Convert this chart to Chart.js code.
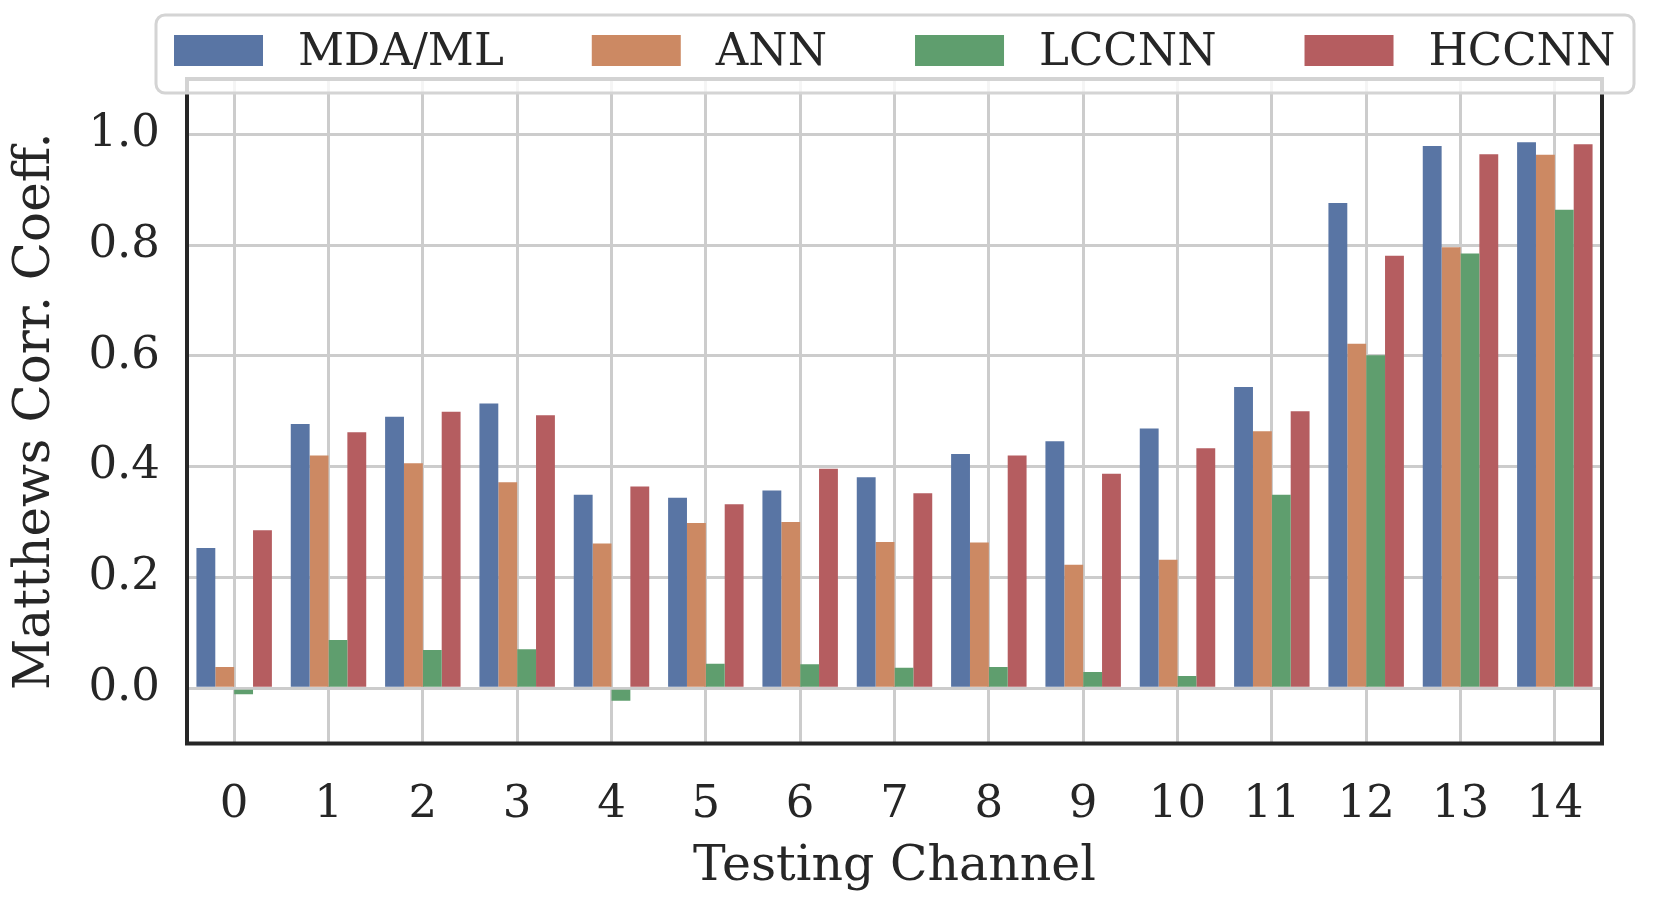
<!DOCTYPE html>
<html>
<head>
<meta charset="utf-8">
<script src="https://cdn.jsdelivr.net/npm/chart.js@4"></script>
<style>
    html, body { margin: 0; padding: 0; background: #fff; }
    canvas { display: block; }
</style>
</head>
<body>
<canvas id="chart" width="1653" height="900"></canvas>
<script>
// testing channels
var channels = ['0', '1', '2', '3', '4', '5', '6', '7', '8', '9', '10', '11', '12', '13', '14'];

// Matthews correlation coefficient per model
var mdaml = [0.253, 0.477, 0.490, 0.514, 0.349, 0.344, 0.357, 0.381, 0.423, 0.446, 0.469, 0.544, 0.876, 0.979, 0.986];
var ann   = [0.038, 0.420, 0.406, 0.372, 0.261, 0.298, 0.300, 0.264, 0.263, 0.223, 0.232, 0.464, 0.622, 0.796, 0.963];
var lccnn = [-0.011, 0.087, 0.069, 0.070, -0.023, 0.044, 0.043, 0.037, 0.038, 0.029, 0.022, 0.349, 0.601, 0.785, 0.864];
var hccnn = [0.285, 0.462, 0.499, 0.493, 0.364, 0.332, 0.396, 0.352, 0.420, 0.387, 0.433, 0.500, 0.781, 0.964, 0.982];

var yTicks = [0.0, 0.2, 0.4, 0.6, 0.8, 1.0];

var FONT = "'DejaVu Serif', serif";
var SPINE = '#262626';
var GRID = '#cccccc';

function makeDataset(label, color, data) {
    return {
        label: label,
        data: data,
        backgroundColor: color,
        borderColor: color,
        borderWidth: 0,
        categoryPercentage: 0.8,
        barPercentage: 1.0
    };
}

// frame + legend box drawn on top, matplotlib style
var framePlugin = {
    id: 'frame',
    afterDatasetsDraw: function(chart) {
        var ctx = chart.ctx;
        var a = chart.chartArea;
        ctx.save();
        ctx.strokeStyle = SPINE;
        ctx.lineWidth = 4;
        ctx.strokeRect(a.left, a.top, a.right - a.left, a.bottom - a.top);
        ctx.restore();
    },
    afterDraw: function(chart) {
        var ctx = chart.ctx;
        var sets = chart.data.datasets;
        var boxL = 156, boxT = 15, boxR = 1634, boxB = 93;
        ctx.save();
        ctx.beginPath();
        ctx.roundRect(boxL, boxT, boxR - boxL, boxB - boxT, 9);
        ctx.fillStyle = 'rgba(255,255,255,0.8)';
        ctx.fill();
        ctx.strokeStyle = '#d4d4d4';
        ctx.lineWidth = 3;
        ctx.stroke();

        ctx.font = '45px ' + FONT;
        ctx.textBaseline = 'middle';
        var x = 174;
        for (var i = 0; i < sets.length; i++) {
            ctx.fillStyle = sets[i].backgroundColor;
            ctx.fillRect(x, 35, 89, 31);
            ctx.fillStyle = SPINE;
            ctx.fillText(sets[i].label, x + 124, 53);
            x += 124 + ctx.measureText(sets[i].label).width + 88;
        }
        ctx.restore();
    }
};

var chart = new Chart(document.getElementById('chart'), {
    type: 'bar',
    data: {
        labels: channels,
        datasets: [
            makeDataset('MDA/ML', '#5975a4', mdaml),
            makeDataset('ANN', '#cc8963', ann),
            makeDataset('LCCNN', '#5f9e6e', lccnn),
            makeDataset('HCCNN', '#b55d60', hccnn)
        ]
    },
    options: {
        responsive: false,
        animation: false,
        devicePixelRatio: 1,
        layout: { padding: { top: 79, right: 51, left: 0, bottom: 0 } },
        plugins: {
            legend: { display: false },
            tooltip: { enabled: false }
        },
        scales: {
            x: {
                offset: true,
                grid: { offset: false, color: GRID, lineWidth: 3, drawTicks: false },
                border: { display: false },
                ticks: { font: { family: FONT, size: 45 }, color: SPINE, padding: 35 },
                title: {
                    display: true,
                    text: 'Testing Channel',
                    font: { family: FONT, size: 49 },
                    color: SPINE,
                    padding: { top: 0, bottom: 3 }
                },
                afterFit: function(scale) { scale.height = 156.5; }
            },
            y: {
                min: -0.1,
                max: 1.1,
                grid: { color: GRID, lineWidth: 3, drawTicks: false },
                border: { display: false },
                ticks: {
                    font: { family: FONT, size: 45 },
                    color: SPINE,
                    padding: 27,
                    callback: function(v) { return v.toFixed(1); }
                },
                afterBuildTicks: function(scale) {
                    scale.ticks = yTicks.map(function(v) { return { value: v }; });
                },
                title: {
                    display: true,
                    text: 'Matthews Corr. Coeff.',
                    font: { family: FONT, size: 50 },
                    color: SPINE,
                    padding: { top: 6, bottom: 0 }
                },
                afterFit: function(scale) { scale.width = 187; }
            }
        }
    },
    plugins: [framePlugin]
});
</script>
</body>
</html>
